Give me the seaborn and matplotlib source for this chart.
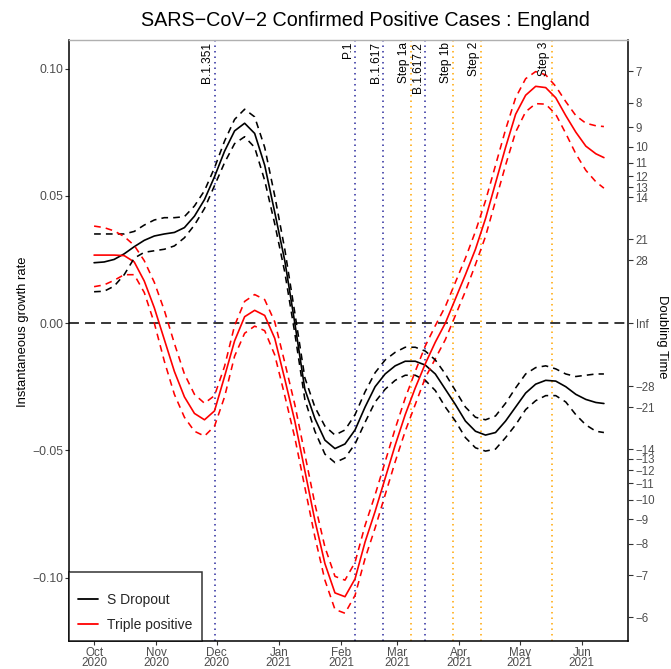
import numpy as np
import pandas as pd
import matplotlib
matplotlib.use("Agg")
import matplotlib.pyplot as plt
import matplotlib.transforms as mtransforms
import seaborn as sns

# ---------------- data ----------------
start_date = "2020-10-01"
days = [0, 5, 10, 15, 20, 25, 30, 35, 40, 45, 50, 55, 60, 65, 70, 75, 80, 85, 90, 95,
        100, 105, 110, 115, 120, 125, 130, 135, 140, 145, 150, 155, 160, 165, 170, 175,
        180, 185, 190, 195, 200, 205, 210, 215, 220, 225, 230, 235, 240, 245, 250, 254]

sdrop_mid = [0.0237, 0.0240, 0.0250, 0.0272, 0.0300, 0.0325, 0.0342, 0.0350, 0.0356, 0.0375,
             0.0420, 0.0485, 0.0575, 0.0675, 0.0755, 0.0785, 0.0745, 0.0620, 0.0435, 0.0245,
             0.0000, -0.0260, -0.0375, -0.0460, -0.0493, -0.0475, -0.0420, -0.0330, -0.0250, -0.0200,
             -0.0168, -0.0150, -0.0150, -0.0165, -0.0200, -0.0260, -0.0320, -0.0385, -0.0425, -0.0440,
             -0.0430, -0.0385, -0.0330, -0.0275, -0.0240, -0.0225, -0.0228, -0.0250, -0.0280, -0.0300,
             -0.0312, -0.0316]
sdrop_hi = [0.0350, 0.0350, 0.0350, 0.0350, 0.0360, 0.0385, 0.0405, 0.0414, 0.0414, 0.0418,
            0.0460, 0.0520, 0.0610, 0.0715, 0.0800, 0.0840, 0.0810, 0.0690, 0.0500, 0.0290,
            0.0040, -0.0215, -0.0330, -0.0405, -0.0440, -0.0420, -0.0360, -0.0270, -0.0195, -0.0145,
            -0.0115, -0.0095, -0.0095, -0.0110, -0.0145, -0.0200, -0.0265, -0.0330, -0.0370, -0.0380,
            -0.0365, -0.0315, -0.0255, -0.0200, -0.0175, -0.0168, -0.0180, -0.0200, -0.0210, -0.0205,
            -0.0200, -0.0200]
sdrop_lo = [0.0123, 0.0125, 0.0145, 0.0190, 0.0255, 0.0278, 0.0284, 0.0290, 0.0303, 0.0335,
            0.0385, 0.0450, 0.0540, 0.0630, 0.0705, 0.0732, 0.0690, 0.0560, 0.0390, 0.0200,
            -0.0040, -0.0300, -0.0425, -0.0515, -0.0548, -0.0530, -0.0475, -0.0390, -0.0310, -0.0260,
            -0.0225, -0.0205, -0.0205, -0.0225, -0.0265, -0.0330, -0.0385, -0.0450, -0.0490, -0.0503,
            -0.0495, -0.0450, -0.0400, -0.0340, -0.0305, -0.0285, -0.0285, -0.0310, -0.0360, -0.0400,
            -0.0425, -0.0430]

trip_mid = [0.0267, 0.0267, 0.0267, 0.0265, 0.0240, 0.0165, 0.0060, -0.0065, -0.0190, -0.0290,
            -0.0355, -0.0380, -0.0345, -0.0210, -0.0070, 0.0025, 0.0050, 0.0030, -0.0060, -0.0220,
            -0.0385, -0.0580, -0.0775, -0.0945, -0.1060, -0.1075, -0.1005, -0.0860, -0.0740, -0.0610,
            -0.0480, -0.0360, -0.0255, -0.0160, -0.0075, 0.0000, 0.0095, 0.0190, 0.0290, 0.0410,
            0.0550, 0.0690, 0.0820, 0.0895, 0.0930, 0.0925, 0.0885, 0.0815, 0.0750, 0.0695,
            0.0665, 0.0650]
trip_hi = [0.0381, 0.0375, 0.0362, 0.0340, 0.0305, 0.0245, 0.0160, 0.0050, -0.0080, -0.0200,
           -0.0280, -0.0315, -0.0285, -0.0170, -0.0010, 0.0085, 0.0112, 0.0092, 0.0005, -0.0155,
           -0.0320, -0.0515, -0.0710, -0.0880, -0.0995, -0.1010, -0.0940, -0.0795, -0.0675, -0.0545,
           -0.0415, -0.0295, -0.0190, -0.0090, -0.0010, 0.0065, 0.0160, 0.0255, 0.0360, 0.0480,
           0.0620, 0.0760, 0.0885, 0.0960, 0.0988, 0.0975, 0.0930, 0.0870, 0.0815, 0.0785,
           0.0775, 0.0772]
trip_lo = [0.0143, 0.0150, 0.0168, 0.0190, 0.0190, 0.0120, 0.0000, -0.0150, -0.0280, -0.0370,
           -0.0425, -0.0444, -0.0405, -0.0290, -0.0130, -0.0040, -0.0012, -0.0030, -0.0125, -0.0285,
           -0.0450, -0.0645, -0.0840, -0.1010, -0.1125, -0.1140, -0.1070, -0.0925, -0.0805, -0.0675,
           -0.0545, -0.0425, -0.0320, -0.0215, -0.0140, -0.0065, 0.0030, 0.0125, 0.0230, 0.0340,
           0.0480, 0.0620, 0.0750, 0.0830, 0.0862, 0.0860, 0.0820, 0.0745, 0.0665, 0.0600,
           0.0555, 0.0530]

series_names = ["S Dropout", "Triple positive"]
series_colors = ["black", "red"]

event_labels = ["B.1.351", "P.1", "B.1.617", "B.1.617.2", "Step 1a", "Step 1b", "Step 2", "Step 3"]
event_dates = ["2020-11-30", "2021-02-08", "2021-02-22", "2021-03-15",
               "2021-03-08", "2021-03-29", "2021-04-12", "2021-05-17"]
event_kind = ["variant", "variant", "variant", "variant", "step", "step", "step", "step"]

doubling_times = [7, 8, 9, 10, 11, 12, 13, 14, 21, 28, np.inf,
                  -28, -21, -14, -13, -12, -11, -10, -9, -8, -7, -6]

x_tick_dates = ["2020-10-01", "2020-11-01", "2020-12-01", "2021-01-01", "2021-02-01",
                "2021-03-01", "2021-04-01", "2021-05-01", "2021-06-01"]
x_tick_labels = ["Oct\n2020", "Nov\n2020", "Dec\n2020", "Jan\n2021", "Feb\n2021",
                 "Mar\n2021", "Apr\n2021", "May\n2021", "Jun\n2021"]
y_ticks = [-0.10, -0.05, 0.00, 0.05, 0.10]
y_tick_labels = ["\u22120.10", "\u22120.05", "0.00", "0.05", "0.10"]

# ---------------- build frames ----------------
dates = pd.Timestamp(start_date) + pd.to_timedelta(days, unit="D")
frames = []
for name, mid, lo, hi in [("S Dropout", sdrop_mid, sdrop_lo, sdrop_hi),
                          ("Triple positive", trip_mid, trip_lo, trip_hi)]:
    for bound, vals in [("mid", mid), ("lo", lo), ("hi", hi)]:
        frames.append(pd.DataFrame({"date": dates, "value": vals,
                                    "series": name, "bound": bound}))
df = pd.concat(frames, ignore_index=True)

# ---------------- plotting ----------------
sns.set_theme(style="white")
plt.rcParams["font.family"] = ["Liberation Sans", "DejaVu Sans"]

W, H = 671, 669
fig = plt.figure(figsize=(W / 100, H / 100), dpi=100)
L, R, T, B = 69, 628, 40, 641
ax = fig.add_axes([L / W, 1 - B / H, (R - L) / W, (B - T) / H])

palette = dict(zip(series_names, series_colors))
sns.lineplot(data=df[df.bound == "mid"], x="date", y="value", hue="series",
             palette=palette, estimator=None, sort=False, lw=1.2, ax=ax,
             solid_joinstyle="round")
for bnd in ["lo", "hi"]:
    for name in series_names:
        sub = df[(df.bound == bnd) & (df.series == name)]
        sns.lineplot(data=sub, x="date", y="value", color=palette[name],
                     estimator=None, sort=False, lw=1.15, ax=ax, legend=False,
                     dashes=False, linestyle=(0, (4.2, 3.2)), dash_joinstyle="round")

# zero line
ax.axhline(0, color="black", lw=1.1, ls=(0, (6.5, 4)), zorder=1)

# event lines
kind_color = {"variant": "#2B2B9E", "step": "#FFA500"}
trans = mtransforms.blended_transform_factory(ax.transData, ax.transAxes)
for lab, d, k in zip(event_labels, event_dates, event_kind):
    dt = pd.Timestamp(d)
    ax.axvline(dt, color=kind_color[k], lw=1.1, ls=(0, (1, 2.6)), zorder=0.5)
    tt = mtransforms.offset_copy(trans, fig=fig, x=-1.5, y=-2, units="dots")
    ax.text(dt, 1.0, lab, transform=tt, rotation=90, ha="right", va="top",
            fontsize=8.6, color="black")

ax.set_xlim(pd.Timestamp("2020-09-18 12:00"), pd.Timestamp("2021-06-24"))
ax.set_ylim(-0.1249, 0.1112)
ax.set_xticks([pd.Timestamp(d) for d in x_tick_dates])
ax.set_xticklabels(x_tick_labels, fontsize=8.4, color="#4D4D4D", linespacing=0.85)
ax.set_yticks(y_ticks)
ax.set_yticklabels(y_tick_labels, fontsize=8.8, color="#4D4D4D")
ax.tick_params(axis="both", which="major", direction="out", length=3, width=0.8,
               color="#333333", bottom=True, left=True, pad=1.2)
ax.set_xlabel("")
ax.set_ylabel("Instantaneous growth rate", fontsize=9.4, color="black")
ax.yaxis.set_label_coords(-0.071, (641 - 332) / 601)

for s in ["left", "bottom", "right"]:
    ax.spines[s].set_color("black")
    ax.spines[s].set_linewidth(1.1)
ax.spines["top"].set_color("#B0B0B0")
ax.spines["top"].set_linewidth(1.0)

# right axis: doubling time
ax2 = ax.twinx()
ax2.set_ylim(ax.get_ylim())
dt_vals = [np.log(2) / t if np.isfinite(t) else 0.0 for t in doubling_times]
dt_labs = ["Inf" if not np.isfinite(t) else (str(t) if t > 0 else "\u2212" + str(-t))
           for t in doubling_times]
ax2.set_yticks(dt_vals)
ax2.set_yticklabels(dt_labs, fontsize=8.3, color="#4D4D4D")
ax2.tick_params(axis="y", direction="out", length=3.5, width=0.8, color="#333333",
                right=True, pad=2)
ax2.set_ylabel("Doubling Time", fontsize=9.4, rotation=-90, color="black", va="center")
ax2.yaxis.set_label_coords((662 - 69) / 559, (641 - 337) / 601)
for s in ax2.spines.values():
    s.set_visible(False)

# legend
handles, labels = ax.get_legend_handles_labels()
leg = ax.legend(handles[:2], labels[:2], loc="lower left", frameon=True, fancybox=False,
                fontsize=10, handlelength=1.45, handletextpad=0.65, borderaxespad=0,
                borderpad=0.65, labelspacing=0.8, title=" ", title_fontsize=1)
leg.get_frame().set_edgecolor("black")
leg.get_frame().set_linewidth(1.1)
for l in leg.get_lines():
    l.set_linewidth(1.3)

fig.text(0.545, 1 - 20 / H, "SARS\u2212CoV\u22122 Confirmed Positive Cases : England",
         ha="center", va="center", fontsize=14.2, color="black")

fig.savefig("out.png", dpi=100)
